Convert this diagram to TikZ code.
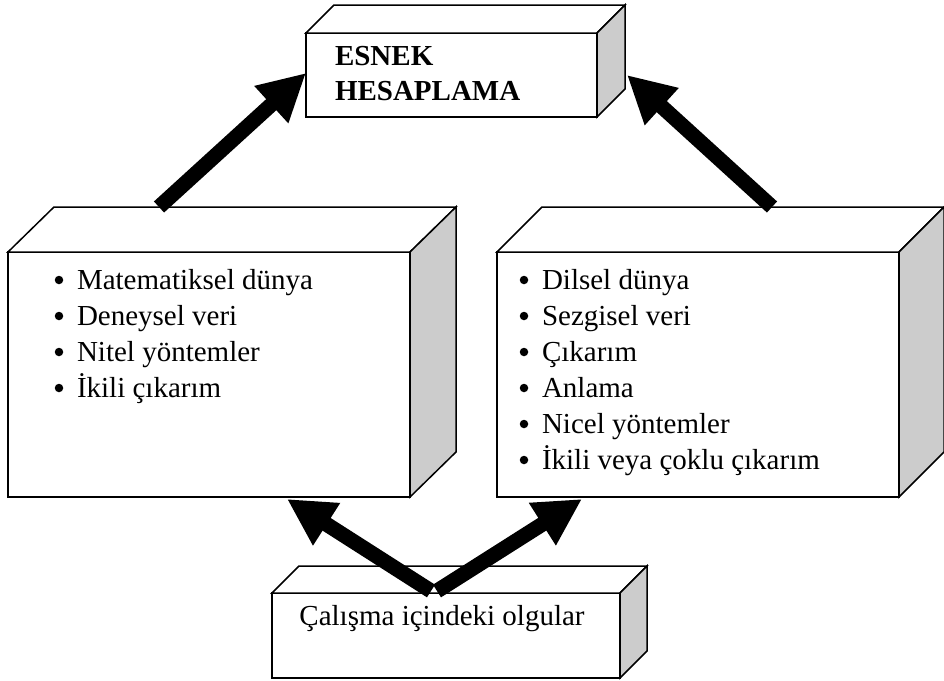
\documentclass[tikz,border=0pt]{standalone}
\usepackage{fontspec}
\setmainfont{Liberation Serif}
\usetikzlibrary{arrows.meta,calc}
\begin{document}
\begin{tikzpicture}[x=1pt,y=-1pt,
  front/.style={draw=black, line width=1.5pt, fill=white, inner sep=0pt, outer sep=0pt},
  topface/.style={draw=black, line width=1.5pt, fill=white, line join=miter},
  sideface/.style={draw=black, line width=1.5pt, fill=gray!40, line join=miter},
  txt/.style={inner sep=0pt, outer sep=0pt, font=\fontsize{29}{35}\selectfont},
  dot/.style={circle, fill=black, inner sep=0pt, minimum size=8.5pt},
  bigarrow/.style={line width=15pt, -{Triangle[length=47pt,width=47pt]}}
  ]
\useasboundingbox (0,0) rectangle (944,680);

% top box
\node[front, minimum width=291pt, minimum height=84pt] (T) at (451.5,75) {};
\draw[topface] (T.north west) -- ++(28,-28) -- ++(291,0) -- (T.north east) -- cycle;
\draw[sideface] (T.north east) -- ++(28,-28) -- ++(0,84) -- (T.south east) -- cycle;
\node[txt, anchor=base west, font=\fontsize{29}{35}\selectfont\bfseries] (t1) at (335,65) {ESNEK};
\node[txt, anchor=base west, font=\fontsize{29}{35}\selectfont\bfseries] (t2) at (335,100) {HESAPLAMA};

% left box
\node[front, minimum width=402pt, minimum height=245pt] (L) at (209,374.5) {};
\draw[topface] (L.north west) -- ++(46,-45) -- ++(402,0) -- (L.north east) -- cycle;
\draw[sideface] (L.north east) -- ++(46,-45) -- ++(0,245) -- (L.south east) -- cycle;
\foreach \i/\t [count=\n] in {289/Matematiksel dünya, 325/Deneysel veri, 361/Nitel yöntemler, 397/İkili çıkarım}{
  \node[dot] (lb\n) at (59,\i-9) {};
  \node[txt, anchor=base west] (lt\n) at (77,\i) {\t};
}

% right box
\node[front, minimum width=402pt, minimum height=245pt] (R) at (698,374.5) {};
\draw[topface] (R.north west) -- ++(45,-45) -- ++(402,0) -- (R.north east) -- cycle;
\draw[sideface] (R.north east) -- ++(45,-45) -- ++(0,245) -- (R.south east) -- cycle;
\foreach \i/\t [count=\n] in {289/Dilsel dünya, 325/Sezgisel veri, 361/Çıkarım, 397/Anlama, 433/Nicel yöntemler, 469/İkili veya çoklu çıkarım}{
  \node[dot] (rb\n) at (524,\i-9) {};
  \node[txt, anchor=base west] (rt\n) at (542,\i) {\t};
}

% bottom box
\node[front, minimum width=348pt, minimum height=85pt] (B) at (446,635.5) {};
\draw[topface] (B.north west) -- ++(27,-27) -- ++(348,0) -- (B.north east) -- cycle;
\draw[sideface] (B.north east) -- ++(27,-27) -- ++(0,85) -- (B.south east) -- cycle;
\node[txt, anchor=base] (bt) at (442,625) {Çalışma içindeki olgular};

% connector end points
\coordinate (a1s) at ($(L.north west)+(151,-45)$);
\coordinate (a1e) at ($(T.west)+(0,-2)$);
\coordinate (a2s) at ($(R.north west)+(275,-45)$);
\coordinate (a2e) at ($(T.east)+(30,0)$);
\coordinate (a3s) at ($(B.north west)+(159,-2)$);
\coordinate (a3e) at ($(L.south east)+(-123,2)$);
\coordinate (a4s) at ($(B.north west)+(165,-2)$);
\coordinate (a4e) at ($(R.south west)+(85,2)$);

\draw[bigarrow] (a1s) -- (a1e);
\draw[bigarrow] (a2s) -- (a2e);
\draw[bigarrow] (a3s) -- (a3e);
\draw[bigarrow] (a4s) -- (a4e);
\end{tikzpicture}
\end{document}
